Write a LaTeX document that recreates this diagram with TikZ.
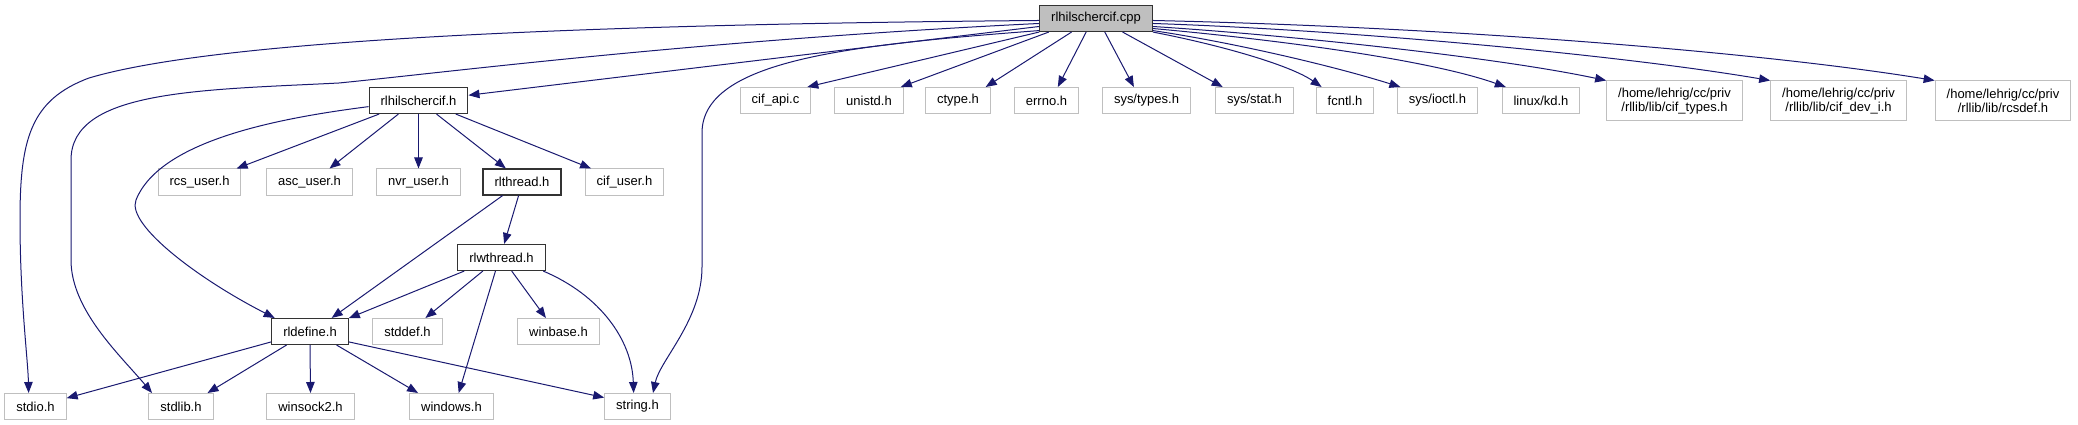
\documentclass[tikz,border=0pt]{standalone}
\usepackage{fontspec}
\setmainfont{Liberation Sans}
\usetikzlibrary{arrows.meta}
\definecolor{edgeblue}{HTML}{191970}
\definecolor{boxgray}{HTML}{BFBFBF}

\begin{document}
\begin{tikzpicture}[x=1pt,y=-1pt,
  file/.style={draw=boxgray,line width=1pt,inner xsep=11.5pt,inner ysep=0pt,minimum height=26pt,font=\fontsize{13}{14}\selectfont},
  docfile/.style={file,draw=black!80,line width=1.1pt},
  root/.style={docfile,fill=boxgray},
  twoline/.style={file,align=center,minimum height=40pt},
  edge/.style={edgeblue,line width=1pt,-{Triangle[length=11pt,width=8.5pt]}}]
\useasboundingbox (0,0) rectangle (2078,425);
\node[root] (cpp) at (1096,18.5) {rlhilschercif.cpp};
\node[docfile] (rlh) at (418.5,100.5) {rlhilschercif.h};
\node[file] (cifapi) at (775.5,100.5) {cif\_api.c};
\node[file] (unistd) at (869,100.5) {unistd.h};
\node[file] (ctype) at (958,100.5) {ctype.h};
\node[file] (errno) at (1046.5,100.5) {errno.h};
\node[file] (systypes) at (1146.5,100.5) {sys/types.h};
\node[file] (sysstat) at (1254.5,100.5) {sys/stat.h};
\node[file] (fcntl) at (1345,100.5) {fcntl.h};
\node[file] (sysioctl) at (1437.5,100.5) {sys/ioctl.h};
\node[file] (linuxkd) at (1541,100.5) {linux/kd.h};
\node[twoline] (ciftypes) at (1674.5,101) {/home/lehrig/cc/priv\\/rllib/lib/cif\_types.h};
\node[twoline] (cifdevi) at (1838.5,101) {/home/lehrig/cc/priv\\/rllib/lib/cif\_dev\_i.h};
\node[twoline] (rcsdef) at (2003,101) {/home/lehrig/cc/priv\\/rllib/lib/rcsdef.h};
\node[file] (rcsuser) at (199.5,182) {rcs\_user.h};
\node[file] (ascuser) at (309.5,182) {asc\_user.h};
\node[file] (nvruser) at (418.5,182) {nvr\_user.h};
\node[docfile] (rlthread) at (522,182) {rlthread.h};
\node[file] (cifuser) at (624.5,182) {cif\_user.h};
\node[docfile] (rlwthread) at (501.5,257.5) {rlwthread.h};
\node[docfile] (rldefine) at (310,331.5) {rldefine.h};
\node[file] (stddef) at (407.5,331.5) {stddef.h};
\node[file] (winbase) at (558.5,331.5) {winbase.h};
\node[file] (stdio) at (35.5,406.5) {stdio.h};
\node[file] (stdlib) at (181,406.5) {stdlib.h};
\node[file] (winsock) at (310.5,406.5) {winsock2.h};
\node[file] (windows) at (451.5,406.5) {windows.h};
\node[file] (string) at (637.5,406.5) {string.h};

% rlhilschercif.cpp
\draw[edge] (cpp.182) .. controls (500,25) and (200,45) .. (89,78) .. controls (30,100) and (20,140) .. (20,220) .. controls (20,300) and (28,360) .. (stdio.117);
\draw[edge] (cpp.185) .. controls (700,40) and (450,72) .. (339,83) .. controls (200,90) and (71,90) .. (71,160) -- (71,260) .. controls (71,310) and (120,355) .. (stdlib.155);
\draw[edge] (cpp.188) -- (rlh.6);
\draw[edge] (cpp.192) .. controls (850,45) and (702,60) .. (702,133) -- (702,267) .. controls (702,320) and (660,360) .. (string.41);
\draw[edge] (cpp.south west) -- (cifapi.23);
\draw[edge] (cpp.196) -- (unistd.23);
\draw[edge] (cpp.209) -- (ctype.26);
\draw[edge] (cpp.234) -- (errno.50);
\draw[edge] (cpp.303) -- (systypes.133);
\draw[edge] (cpp.333) -- (sysstat.157);
\draw[edge] (cpp.south east) .. controls (1220,45) and (1290,65) .. (fcntl.150);
\draw[edge] (cpp.-12) .. controls (1230,42) and (1330,65) .. (sysioctl.160);
\draw[edge] (cpp.-10) .. controls (1280,40) and (1430,60) .. (linuxkd.159);
\draw[edge] (cpp.-8) .. controls (1300,36) and (1500,58) .. (ciftypes.north west);
\draw[edge] (cpp.-5) .. controls (1350,30) and (1620,55) .. (cifdevi.north west);
\draw[edge] (cpp.-2) .. controls (1450,27) and (1760,52) .. (rcsdef.north west);

% rlhilschercif.h
\draw[edge] (rlh.187) .. controls (280,118) and (160,140) .. (136,200) .. controls (126,225) and (200,280) .. (rldefine.159);
\draw[edge] (rlh.199) -- (rcsuser.20);
\draw[edge] (rlh.214) -- (ascuser.34);
\draw[edge] (rlh.south) -- (nvruser.north);
\draw[edge] (rlh.323) -- (rlthread.140);
\draw[edge] (rlh.340) -- (cifuser.158);

% rlthread.h / rlwthread.h
\draw[edge] (rlthread.215) -- (rldefine.32);
\draw[edge] (rlthread.256) -- (rlwthread.79);
\draw[edge] (rlwthread.200) -- (rldefine.19);
\draw[edge] (rlwthread.216) -- (stddef.37);
\draw[edge] (rlwthread.307) -- (winbase.133);
\draw[edge] (rlwthread.246) -- (windows.62);
\draw[edge] (rlwthread.342) .. controls (600,295) and (632,340) .. (string.106);

% rldefine.h
\draw[edge] (rldefine.195) -- (stdio.15);
\draw[edge] (rldefine.210) -- (stdlib.27);
\draw[edge] (rldefine.south) -- (winsock.north);
\draw[edge] (rldefine.333) -- (windows.158);
\draw[edge] (rldefine.345) -- (string.165);
\end{tikzpicture}
\end{document}
